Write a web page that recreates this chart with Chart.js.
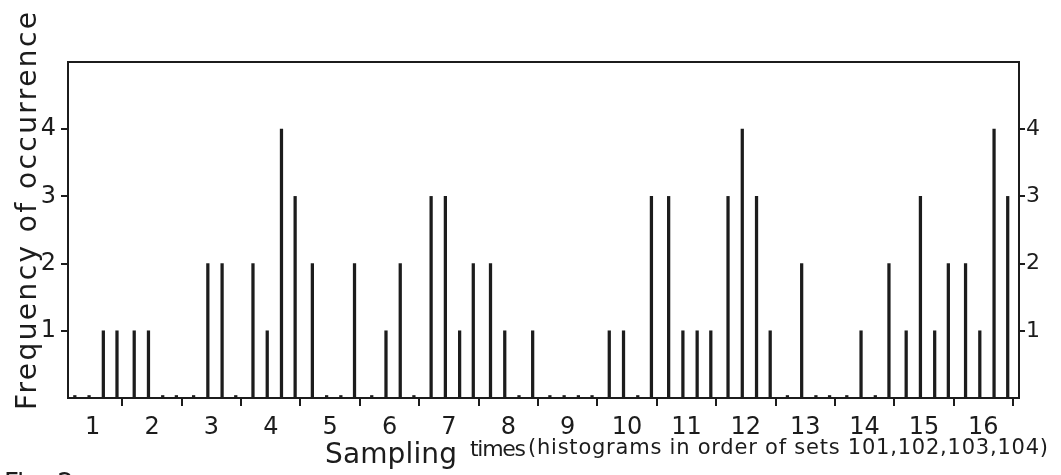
<!DOCTYPE html>
<html>
<head>
<meta charset="utf-8">
<script src="https://cdn.jsdelivr.net/npm/chart.js@4.4.1/dist/chart.umd.min.js"></script>
<style>
  html, body { margin: 0; padding: 0; background: #fff; }
  #wrap { width: 1061px; height: 475px; }
</style>
</head>
<body>
<div id="wrap"><canvas id="fig"></canvas></div>
<script>
// sampling times 1..16, four histograms each (sets 101,102,103,104)
const samplingTimes = ['1','2','3','4','5','6','7','8','9','10','11','12','13','14','15','16'];
const set101 = [0, 1, 0, 2, 2, 0, 3, 2, 0, 1, 3, 3, 0, 0, 1, 2];
const set102 = [0, 1, 2, 1, 0, 1, 3, 1, 0, 1, 1, 4, 2, 1, 3, 1];
const set103 = [1, 0, 2, 4, 0, 2, 1, 0, 0, 0, 1, 3, 0, 0, 1, 4];
const set104 = [1, 0, 0, 3, 2, 0, 2, 1, 0, 3, 1, 1, 0, 2, 2, 3];
const yTicks = [1, 2, 3, 4];

// where each set sits inside its sampling time
const slotOffset = [-0.30, -0.06, 0.18, 0.41];
const X_MIN = 0.585, X_MAX = 16.6;
const INK = '#1c1c1c';
const FONT = '"DejaVu Sans", sans-serif';

function toPoints(vals, k) {
  return vals.map((v, i) => ({ x: i + 1 + slotOffset[k], y: v }));
}

const datasets = [set101, set102, set103, set104].map((vals, k) => ({
  label: 'set ' + (101 + k),
  data: toPoints(vals, k),
  backgroundColor: INK,
  borderWidth: 0,
  barThickness: 2.6,
  minBarLength: 2.5,
  grouped: false
}));

const setYTicks = s => { s.ticks = yTicks.map(v => ({ value: v })); };

// stretch a string to a given width with letter spacing
function fitText(ctx, text, x, y, width) {
  ctx.letterSpacing = '0px';
  const w = ctx.measureText(text).width;
  ctx.letterSpacing = ((width - w) / (text.length - 1)) + 'px';
  ctx.fillText(text, x, y);
  ctx.letterSpacing = '0px';
}

const titles = {
  id: 'titles',
  afterDraw(chart) {
    const ctx = chart.ctx;
    ctx.save();
    ctx.fillStyle = INK;
    ctx.textBaseline = 'alphabetic';
    ctx.textAlign = 'left';

    // y title
    ctx.save();
    ctx.translate(36, 410);
    ctx.rotate(-Math.PI / 2);
    ctx.font = '28px ' + FONT;
    fitText(ctx, 'Frequency of occurrence', 0, 0, 398);
    ctx.restore();

    // x title
    ctx.font = '28px ' + FONT;
    fitText(ctx, 'Sampling', 325, 463, 132);
    ctx.font = '22px ' + FONT;
    fitText(ctx, 'times', 470, 456, 56);
    ctx.font = '21px ' + FONT;
    fitText(ctx, '(histograms in order of sets 101,102,103,104)', 528, 454, 520);

    ctx.font = '26px ' + FONT;
    ctx.fillText('Fig. 2', 4, 492);
    ctx.restore();
  }
};

new Chart(document.getElementById('fig'), {
  type: 'bar',
  data: { datasets },
  options: {
    responsive: true,
    maintainAspectRatio: false,
    animation: false,
    layout: { padding: 0 },
    plugins: { legend: { display: false }, tooltip: { enabled: false } },
    scales: {
      x: {
        type: 'linear',
        position: 'bottom',
        min: X_MIN,
        max: X_MAX,
        offset: false,
        afterBuildTicks: s => { s.ticks = samplingTimes.map((t, i) => ({ value: i + 1 })); },
        afterFit: s => { s.height = 77; },
        ticks: {
          callback: (v) => samplingTimes[v - 1],
          color: INK,
          font: { family: FONT, size: 24 },
          padding: 7,
          maxRotation: 0,
          autoSkip: false
        },
        grid: { offset: true, drawOnChartArea: false, drawTicks: true, tickLength: 8, color: INK, lineWidth: 2 },
        border: { display: true, color: INK, width: 2 }
      },
      xTop: {
        type: 'linear',
        position: 'top',
        min: X_MIN,
        max: X_MAX,
        afterFit: s => { s.height = 62; },
        ticks: { display: false },
        grid: { drawOnChartArea: false, drawTicks: false },
        border: { display: true, color: INK, width: 2 }
      },
      y: {
        position: 'left',
        min: 0,
        max: 5,
        afterBuildTicks: setYTicks,
        afterFit: s => { s.width = 68; },
        ticks: { color: INK, font: { family: FONT, size: 24 }, padding: 5 },
        grid: { drawOnChartArea: false, tickLength: 7, color: INK, lineWidth: 2 },
        border: { display: true, color: INK, width: 2 }
      },
      y2: {
        position: 'right',
        min: 0,
        max: 5,
        afterBuildTicks: setYTicks,
        afterFit: s => { s.width = 42; },
        ticks: { color: INK, font: { family: FONT, size: 22 }, padding: 1 },
        grid: { drawOnChartArea: false, tickLength: 6, color: INK, lineWidth: 2 },
        border: { display: true, color: INK, width: 2 }
      }
    }
  },
  plugins: [titles]
});
</script>
</body>
</html>
